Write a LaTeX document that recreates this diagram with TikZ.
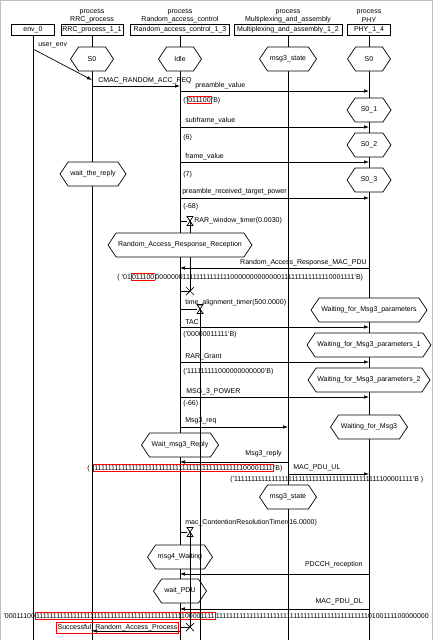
\documentclass[tikz,border=0pt]{standalone}
\usepackage{fontspec}
\setmainfont{Liberation Sans}
\usetikzlibrary{arrows.meta,shapes.symbols}
\newcommand\rb[1]{{\fboxsep=0.4pt\fboxrule=0.7pt\color{red}\fbox{\color{black}#1}}}
\def\tn{1111111111}
\def\tz{0000000000}
\begin{document}
\begin{tikzpicture}[x=1pt,y=-1pt,font=\fontsize{7}{8.4}\selectfont,line width=0.7pt,
  inst/.style={draw,minimum height=11pt,inner sep=0pt},
  hx/.style={draw,fill=white,signal,signal to=east and west,signal pointer angle=112,minimum height=24pt,inner sep=0pt},
  tx/.style={inner sep=0pt,anchor=west},
  txr/.style={inner sep=0pt,anchor=east},
  txc/.style={inner sep=0pt},
  msg/.style={-{Latex[length=5pt,width=3.6pt]}},
  hourglass/.pic={\draw (-3,-4.5) -- (3,-4.5) -- (-3,4.5) -- (3,4.5) -- cycle;},
  stopx/.pic={\draw (-4,-4) -- (4,4) (-4,4) -- (4,-4);},
]
\useasboundingbox (0,0) rectangle (436,640);
\draw[gray!50,line width=1pt] (0.5,640) -- (0.5,0.5) -- (432,0.5) -- (432,640);

% headers
\node[txc] (hrrc1) at (92,12) {process};
\node[txc] (hrrc2) at (92,20) {RRC\_process};
\node[txc] (hrnd1) at (180,12) {process};
\node[txc] (hrnd2) at (180,20) {Random\_access\_control};
\node[txc] (hmux1) at (288,12) {process};
\node[txc] (hmux2) at (288,20) {Multiplexing\_and\_assembly};
\node[txc] (hphy1) at (369,12) {process};
\node[txc] (hphy2) at (369,20) {PHY};

\node[inst,minimum width=43pt] (env) at (33,29.5) {env\_0};
\node[inst,minimum width=62pt] (rrc) at (92,29.5) {RRC\_process\_1\_1};
\node[inst,minimum width=99pt] (rnd) at (180,29.5) {Random\_access\_control\_1\_3};
\node[inst,minimum width=108pt] (mux) at (288,29.5) {Multiplexing\_and\_assembly\_1\_2};
\node[inst,minimum width=43pt] (phy) at (369,29.5) {PHY\_1\_4};

% lifelines
\coordinate (envE) at (33,640);
\coordinate (rrcE) at (92,640);
\coordinate (rndE) at (180,640);
\coordinate (muxE) at (288,640);
\coordinate (phyE) at (369,640);
\draw (env) -- (envE);
\draw (rrc) -- (rrcE);
\draw (rnd) -- (rndE);
\draw (mux) -- (muxE);
\draw (phy) -- (phyE);

% RAR window timer line (behind states)
\coordinate (t1) at (190,221);
\coordinate (t1x) at (190,291);
\draw (t1) -- (t1x);

% states
\node[hx,minimum width=43pt] (s0a) at (92,59) {S0};
\node[hx,minimum width=43pt] (idle) at (180,59) {Idle};
\node[hx,minimum width=57pt] (m3a) at (288,59) {msg3\_state};
\node[hx,minimum width=43pt] (s0b) at (369,59) {S0};
\node[hx,minimum width=44pt] (s01) at (369,110) {S0\_1};
\node[hx,minimum width=44pt] (s02) at (369,145) {S0\_2};
\node[hx,minimum width=44pt] (s03) at (369,180) {S0\_3};
\node[hx,minimum width=66pt] (wtr) at (93,174) {wait\_the\_reply};
\node[hx,minimum width=144pt] (rarr) at (180,245) {Random\_Access\_Response\_Reception};
\node[hx,minimum width=116pt] (wm3p) at (369,310) {Waiting\_for\_Msg3\_parameters};
\node[hx,minimum width=124pt] (wm3p1) at (369,345) {Waiting\_for\_Msg3\_parameters\_1};
\node[hx,minimum width=122pt] (wm3p2) at (369,380) {Waiting\_for\_Msg3\_parameters\_2};
\node[hx,minimum width=77pt] (wm3) at (369,427) {Waiting\_for\_Msg3};
\node[hx,minimum width=77pt] (wm3r) at (180,445) {Wait\_msg3\_Reply};
\node[hx,minimum width=57pt] (m3b) at (288,497) {msg3\_state};
\node[hx,minimum width=65pt] (m4w) at (180,557) {msg4\_Waiting};
\node[hx,minimum width=53pt] (wpdu) at (180,591) {wait\_PDU};

% messages
\coordinate (a1) at (33,49); \coordinate (b1) at (92,80);
\draw[msg] (a1) -- (b1);
\node[tx] (l1) at (38,45) {user\_env};

\coordinate (a2) at (92,86); \coordinate (b2) at (180,86);
\draw[msg] (a2) -- (b2);
\node[tx] (l2) at (98,81) {CMAC\_RANDOM\_ACC\_REQ};

\coordinate (a3) at (180,91); \coordinate (b3) at (369,91);
\draw[msg] (a3) -- (b3);
\node[tx] (l3) at (195,86) {preamble\_value};
\node[tx] (p3) at (183,100) {('\rb{011100}'B)};

\coordinate (a4) at (180,127); \coordinate (b4) at (369,127);
\draw[msg] (a4) -- (b4);
\node[tx] (l4) at (185,121) {subframe\_value};
\node[tx] (p4) at (183,138) {(6)};

\coordinate (a5) at (180,162); \coordinate (b5) at (369,162);
\draw[msg] (a5) -- (b5);
\node[tx] (l5) at (185,157) {frame\_value};
\node[tx] (p5) at (183,175) {(7)};

\coordinate (a6) at (180,198); \coordinate (b6) at (369,198);
\draw[msg] (a6) -- (b6);
\node[tx] (l6) at (182,192) {preamble\_received\_target\_power};
\node[tx] (p6) at (183,207) {(-68)};

% RAR window timer
\coordinate (t1s) at (180,221);
\draw (t1s) -- ++(7,0);
\pic at (t1) {hourglass};
\node[tx] (lt1) at (194,221) {RAR\_window\_timer(0.0030)};
\draw (t1s |- t1x) -- (t1x);
\pic at (t1x) {stopx};

\coordinate (a7) at (369,268); \coordinate (b7) at (180,268);
\draw[msg] (a7) -- (b7);
\node[txr] (l7) at (367,263) {Random\_Access\_Response\_MAC\_PDU};
\node[tx] (p7) at (117,277) {( '01\rb{011100}0000000\tn1111\tz000\tn11110001111'B)};

% time alignment timer
\coordinate (t2s) at (180,309);
\coordinate (t2) at (200,309);
\coordinate (t2e) at (200,640);
\draw (t2s) -- ++(17,0);
\node[tx] (lt2) at (185,303) {time\_alignment\_timer(500.0000)};

\coordinate (a8) at (180,327); \coordinate (b8) at (369,327);
\draw[msg] (a8) -- (b8);
\node[tx] (l8) at (185,322) {TAC};
\node[tx] (p8) at (183,335) {('00000011111'B)};

\coordinate (a9) at (180,362); \coordinate (b9) at (369,362);
\draw[msg] (a9) -- (b9);
\node[tx] (l9) at (185,357) {RAR\_Grant};
\node[tx] (p9) at (183,372) {('111111111\tz00'B)};

\coordinate (a10) at (180,397); \coordinate (b10) at (369,397);
\draw[msg] (a10) -- (b10);
\node[tx] (l10) at (186,392) {MSG\_3\_POWER};
\node[tx] (p10) at (183,404) {(-66)};

\coordinate (a11) at (180,427); \coordinate (b11) at (288,427);
\draw[msg] (a11) -- (b11);
\node[tx] (l11) at (185,421) {Msg3\_req};

\coordinate (a12) at (288,462); \coordinate (b12) at (180,462);
\draw[msg] (a12) -- (b12);
\node[txr] (l12) at (282,454) {Msg3\_reply};
\node[tx] (p12) at (87,468) {( '\rb{\tn\tn\tn\tn111100001111}'B)};

\coordinate (a13) at (288,474); \coordinate (b13) at (369,474);
\draw[msg] (a13) -- (b13);
\node[tx] (l13) at (293,468) {MAC\_PDU\_UL};
\node[tx] (p13) at (230,480) {('\tn\tn\tn\tn111100001111'B )};

% contention resolution timer
\coordinate (t3s) at (180,532);
\coordinate (t3) at (190,532);
\coordinate (t3x) at (190,627);
\draw (t3s) -- ++(7,0);
\node[tx] (lt3) at (185,523) {mac\_ContentionResolutionTimer(16.0000)};

\coordinate (a14) at (369,574); \coordinate (b14) at (180,574);
\draw[msg] (a14) -- (b14);
\node[txr] (l14) at (363,565) {PDCCH\_reception};

\coordinate (a15) at (369,609); \coordinate (b15) at (180,609);
\draw[msg] (a15) -- (b15);
\node[txr] (l15) at (363,602) {MAC\_PDU\_DL};
\node[tx] (p15) at (3,616) {'00011100\rb{\tn\tn\tn\tn111100001111}\tn\tn\tn\tn111110100111100000000};

\coordinate (a16) at (180,631); \coordinate (b16) at (92,631);
\draw[msg] (a16) -- (b16);
\node[draw=red,inner xsep=0.8pt,inner ysep=2pt] (l16) at (117.5,628) {Successful\_Random\_Access\_Process};

% timer lines drawn over states
\draw (t2) -- (t2e);
\pic at (t2) {hourglass};
\draw (t3) -- (t3x);
\pic at (t3) {hourglass};
\draw (t3s |- t3x) -- (t3x);
\pic at (t3x) {stopx};
\end{tikzpicture}
\end{document}
